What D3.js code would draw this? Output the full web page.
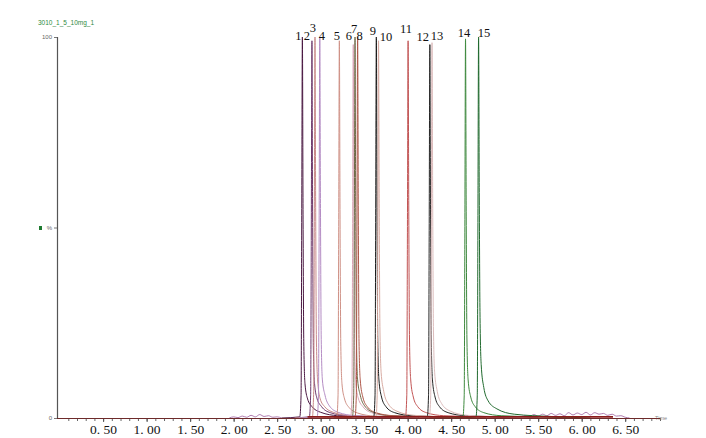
<!DOCTYPE html>
<html><head><meta charset="utf-8">
<script src="https://cdn.jsdelivr.net/npm/d3@7"></script>
<style>html,body{margin:0;padding:0;background:#fff;}svg{display:block;}</style>
</head><body><div id="chart"></div>
<script>
// ---- data ----
const sampleName = "3010_1_5_10mg_1";
const peakNames = ["1","2","3","4","5","6","7","8","9","10","11","12","13","14","15"];
const peakTimes = [2.79,2.90,2.935,2.99,3.215,3.375,3.395,3.425,3.64,3.665,4.005,4.255,4.28,4.665,4.815];
const peakColors = ["#4a1842","#6e3a6c","#c98a8a","#b48cc4","#cf9186","#d9a5b6","#6f6a48","#b0584a","#1c1c1c","#d8aba2","#c25454","#262626","#dcbcbc","#3f8a3f","#206a2e"];
const trace1 = [[2.55,0],[2.76,0.3],[2.775,6],[2.782,48],[2.79,100],[2.798,52],[2.806,20],[2.82,9],[2.85,5],[2.90,3],[3.00,1.5],[3.20,0.6],[3.60,0.3],[4.0,0]];
const trace2 = [[2.65,0],[2.87,0.3],[2.885,6],[2.892,45],[2.90,99],[2.908,50],[2.916,19],[2.93,9],[2.96,5],[3.01,3],[3.11,1.4],[3.31,0.6],[3.70,0.3],[4.1,0]];
const trace3 = [[2.70,0],[2.905,0.3],[2.92,7],[2.927,50],[2.935,100],[2.943,54],[2.951,21],[2.965,10],[2.995,5],[3.045,3],[3.145,1.5],[3.345,0.6],[3.74,0.3],[4.1,0]];
const trace4 = [[2.75,0],[2.96,0.3],[2.975,6],[2.982,46],[2.99,100],[2.998,55],[3.006,22],[3.02,10],[3.05,6],[3.10,3.2],[3.20,1.5],[3.40,0.6],[3.80,0.3],[4.2,0]];
const trace5 = [[2.95,0],[3.185,0.3],[3.20,6],[3.207,47],[3.215,99],[3.223,52],[3.231,20],[3.245,9],[3.275,5],[3.325,2.8],[3.425,1.3],[3.625,0.5],[4.0,0.3],[4.4,0]];
const trace6 = [[3.10,0],[3.345,0.3],[3.36,6],[3.367,46],[3.375,98],[3.383,50],[3.391,19],[3.405,9],[3.435,5],[3.485,3],[3.585,1.4],[3.785,0.6],[4.2,0.3],[4.6,0]];
const trace7 = [[3.15,0],[3.365,0.3],[3.38,6],[3.387,48],[3.395,100],[3.403,54],[3.411,21],[3.425,10],[3.455,6],[3.505,3.2],[3.605,1.5],[3.805,0.6],[4.2,0.3],[4.6,0]];
const trace8 = [[3.15,0],[3.395,0.3],[3.41,6],[3.417,47],[3.425,100],[3.433,53],[3.441,20],[3.455,10],[3.485,5.5],[3.535,3],[3.635,1.4],[3.835,0.6],[4.25,0.3],[4.7,0]];
const trace9 = [[3.40,0],[3.61,0.3],[3.625,6],[3.632,48],[3.64,100],[3.648,54],[3.656,21],[3.67,10],[3.70,5.5],[3.75,3],[3.85,1.4],[4.05,0.6],[4.45,0.3],[4.9,0]];
const trace10 = [[3.40,0],[3.635,0.3],[3.65,6],[3.657,46],[3.665,99],[3.673,55],[3.681,24],[3.695,12],[3.725,7],[3.775,3.8],[3.875,1.8],[4.075,0.7],[4.5,0.3],[4.9,0]];
const trace11 = [[3.75,0],[3.975,0.3],[3.99,6],[3.997,47],[4.005,99],[4.013,53],[4.021,21],[4.035,10],[4.065,5.5],[4.115,3],[4.215,1.4],[4.415,0.6],[4.85,0.3],[5.3,0]];
const trace12 = [[4.0,0],[4.225,0.3],[4.24,6],[4.247,46],[4.255,98],[4.263,52],[4.271,21],[4.285,10],[4.315,5.5],[4.365,3],[4.465,1.4],[4.665,0.6],[5.1,0.3],[5.5,0]];
const trace13 = [[4.0,0],[4.25,0.3],[4.265,6],[4.272,47],[4.28,98.5],[4.288,55],[4.296,24],[4.31,12],[4.34,7],[4.39,3.8],[4.49,1.8],[4.69,0.7],[5.1,0.3],[5.5,0]];
const trace14 = [[4.4,0],[4.635,0.3],[4.65,6],[4.657,47],[4.665,99.5],[4.673,53],[4.681,21],[4.695,10],[4.725,5.5],[4.775,3],[4.875,1.4],[5.075,0.6],[5.5,0.3],[5.9,0]];
const trace15 = [[4.55,0],[4.785,0.3],[4.80,6],[4.807,48],[4.815,100],[4.823,58],[4.831,28],[4.845,14],[4.875,8],[4.925,4.5],[5.025,2.4],[5.225,1],[5.65,0.4],[6.1,0]];
const traces = [trace1,trace2,trace3,trace4,trace5,trace6,trace7,trace8,trace9,trace10,trace11,trace12,trace13,trace14,trace15];
const noiseEarly = [[1.95,0],[2.0,0.3],[2.05,0.1],[2.1,0.5],[2.15,0.2],[2.2,0.7],[2.25,0.3],[2.3,0.9],[2.35,0.4],[2.4,0.6],[2.45,0.2],[2.5,0.3],[2.55,0]];
const noiseLate = [[5.3,0.3],[5.35,0.6],[5.4,0.4],[5.45,0.9],[5.5,0.5],[5.55,1.0],[5.6,0.6],[5.65,1.2],[5.7,0.7],[5.75,1.1],[5.8,0.6],[5.85,1.4],[5.9,0.8],[5.95,1.3],[6.0,0.9],[6.05,1.5],[6.1,0.8],[6.15,1.4],[6.2,1.0],[6.25,1.2],[6.3,0.7],[6.35,1.0],[6.4,0.5],[6.45,0.6],[6.5,0.2],[6.55,0]];
const baselineTrace = [[2.85,0.3],[6.36,0.3]];
const majorTicks = [0.5,1.0,1.5,2.0,2.5,3.0,3.5,4.0,4.5,5.0,5.5,6.0,6.5];
const majorTickLabels = ["0. 50","1. 00","1. 50","2. 00","2. 50","3. 00","3. 50","4. 00","4. 50","5. 00","5. 50","6. 00","6. 50"];

// ---- layout (separate from data) ----
const labelDx = [-4,-5,-2,2,-2.5,-4.5,-1,2,-3.5,7.5,-2,-7,5,-1.5,5.5];
const labelDy = [3,3,-5,3,3,3,-4,3,-2,4,-4,4,3,0,0];

const W = 706, H = 438;
const svg = d3.select("#chart").append("svg").attr("width", W).attr("height", H);
const x = d3.scaleLinear().domain([-0.03, 6.9]).range([57, 660]);
const y = d3.scaleLinear().domain([0, 100]).range([418, 37]);

const line = d3.line().x(d => x(d[0])).y(d => y(d[1])).curve(d3.curveMonotoneX);

// title
svg.append("text").attr("x", 38).attr("y", 25).text(sampleName)
  .attr("font-family", "Liberation Sans, Arial, sans-serif").attr("font-size", 6.5).attr("fill", "#2f8a3e");
// green marker
svg.append("rect").attr("x", 39).attr("y", 226).attr("width", 3).attr("height", 4).attr("fill", "#1e7a30");

// y axis
const yAxis = d3.axisLeft(y).tickValues([0, 50, 100]).tickSize(3).tickFormat(d => d === 100 ? "100" : d === 50 ? "%" : "0");
const gy = svg.append("g").attr("transform", "translate(57,0)").call(yAxis);
gy.select(".domain").attr("stroke", "#555").attr("stroke-width", 1.2);
gy.selectAll(".tick line").attr("stroke", "#777");
gy.selectAll(".tick text").attr("font-family", "Liberation Sans, Arial, sans-serif").attr("font-size", 6).attr("fill", "#666").attr("dx", 1);

// x axis minor ticks
const minor = d3.range(1, 70).map(i => i / 10);
const gxm = svg.append("g").attr("transform", "translate(0,418)")
  .call(d3.axisBottom(x).tickValues(minor).tickSize(3).tickFormat(""));
gxm.select(".domain").remove();
gxm.selectAll(".tick line").attr("stroke", "#666");
const gx = svg.append("g").attr("transform", "translate(0,418)")
  .call(d3.axisBottom(x).tickValues(majorTicks).tickSize(4).tickPadding(2)
    .tickFormat((d, i) => majorTickLabels[i]));
gx.select(".domain").remove();
gx.selectAll(".tick line").attr("stroke", "#555");
gx.selectAll(".tick text").attr("font-family", "Liberation Serif, Times New Roman, serif").attr("font-size", 13.5).attr("fill", "#111");

svg.append("text").attr("x", 655).attr("y", 420).text("Time")
  .attr("font-family", "Liberation Sans, Arial, sans-serif").attr("font-size", 5.5).attr("fill", "#888");

// noise traces
svg.append("path").datum(noiseEarly).attr("d", line).attr("fill", "none").attr("stroke", "#9a5a9a").attr("stroke-width", 0.8);
svg.append("path").datum(noiseLate).attr("d", line).attr("fill", "none").attr("stroke", "#9a5a9a").attr("stroke-width", 0.8);

// traces
svg.append("g").selectAll("path").data(traces).join("path")
  .attr("d", line).attr("fill", "none")
  .attr("stroke", (d, i) => peakColors[i]).attr("stroke-width", 1);

// axis baseline on top
svg.append("line").attr("x1", 57).attr("x2", 660).attr("y1", 418.5).attr("y2", 418.5).attr("stroke", "#6e2a2a").attr("stroke-width", 1);
svg.append("path").datum(baselineTrace).attr("d", line).attr("fill", "none").attr("stroke", "#8b1c1c").attr("stroke-width", 1.6);

// peak labels
svg.append("g").selectAll("text").data(peakNames).join("text")
  .attr("x", (d, i) => x(peakTimes[i]) + labelDx[i])
  .attr("y", (d, i) => y(100) + labelDy[i])
  .attr("text-anchor", "middle")
  .attr("font-family", "Liberation Serif, Times New Roman, serif").attr("font-size", 12.5).attr("fill", "#111")
  .text(d => d);
</script></body></html>
